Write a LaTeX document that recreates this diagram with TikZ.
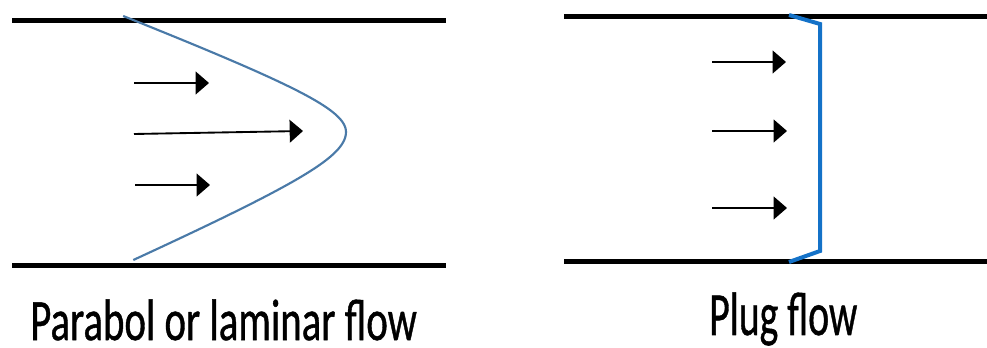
\documentclass[tikz,border=0pt]{standalone}
\usepackage{fontspec}
\setmainfont{Carlito}
\newfontfamily\capfont{Carlito}[FakeBold=0.9]
\usepackage{graphicx}
\usetikzlibrary{arrows.meta}
\definecolor{parablue}{RGB}{74,122,168}
\definecolor{plugblue}{RGB}{20,114,200}
\tikzset{
  wall/.style={line width=3.75pt, black},
  flowarrow/.style={line width=1.4pt, black, -{Triangle[length=10pt,width=17pt]}},
  parabola/.style={line width=1.6pt, parablue, line join=round},
  plug/.style={line width=3pt, plugblue, line join=miter},
  caption/.style={anchor=base west, inner sep=0pt, text=black, font=\capfont}
}
\begin{document}
\begin{tikzpicture}[x=0.75pt,y=-0.75pt]
\useasboundingbox (0,0) rectangle (987,348);
% ---------- left: parabolic / laminar flow ----------
\draw[wall] (12,20.5) -- (446,20.5);
\draw[wall] (12,265.5) -- (446,265.5);
\draw[parabola]
  plot[domain=-116:0, samples=70] ({346-2.62*(10*sqrt((\x/10)^2+13.4)-36.6)}, {132+\x})
  -- plot[domain=0:128, samples=70] ({346-2.55*(10*sqrt((\x/11.2)^2+13.4)-36.6)}, {132+\x});
\coordinate (la1s) at (134,83);  \coordinate (la1e) at (209,83);
\coordinate (la2s) at (134,134); \coordinate (la2e) at (303,131);
\coordinate (la3s) at (135,185); \coordinate (la3e) at (210,185);
\draw[flowarrow] (la1s) -- (la1e);
\draw[flowarrow] (la2s) -- (la2e);
\draw[flowarrow] (la3s) -- (la3e);
\node[caption] (lcap) at (30,340) {\resizebox{290pt}{30.5pt}{Parabol or laminar flow}};
% ---------- right: plug flow ----------
\draw[wall] (564,16.7) -- (987,16.7);
\draw[wall] (564,261.7) -- (987,261.7);
\draw[plug] (789,15) -- (820,24) -- (820,251) -- (789,262);
\coordinate (ra1s) at (712,62);  \coordinate (ra1e) at (786,62);
\coordinate (ra2s) at (712,131); \coordinate (ra2e) at (787,131);
\coordinate (ra3s) at (712,208); \coordinate (ra3e) at (787,208);
\draw[flowarrow] (ra1s) -- (ra1e);
\draw[flowarrow] (ra2s) -- (ra2e);
\draw[flowarrow] (ra3s) -- (ra3e);
\node[caption] (rcap) at (709,335) {\resizebox{111pt}{32pt}{Plug flow}};
\end{tikzpicture}
\end{document}
